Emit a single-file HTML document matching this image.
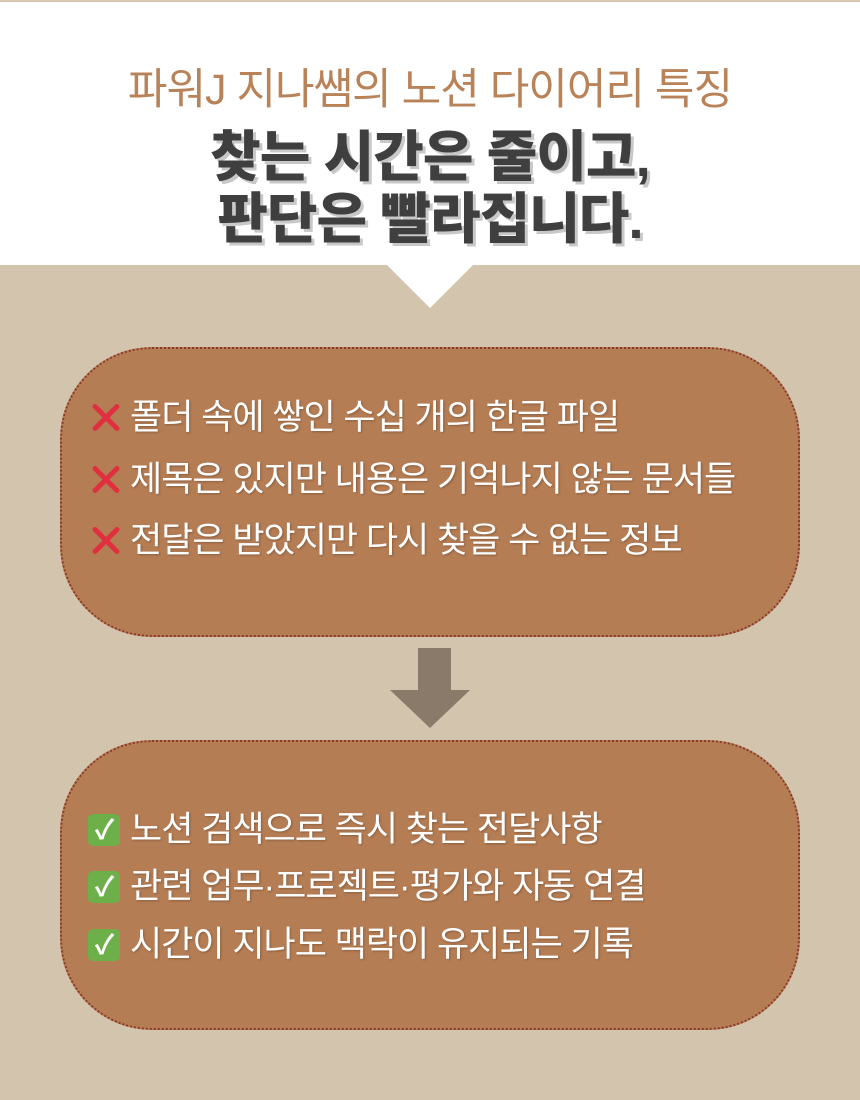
<!DOCTYPE html>
<html><head><meta charset="utf-8"><style>
body{margin:0;width:860px;height:1100px;background:#d3c4ae;position:relative;overflow:hidden;font-family:"Liberation Sans","Noto Sans CJK KR",sans-serif}
.top{position:absolute;left:0;top:0;width:860px;height:265px;background:#fff;border-top:2px solid #d8c8b0;box-sizing:border-box}
.tri{position:absolute;left:386px;top:264px;width:0;height:0;border-left:44px solid transparent;border-right:44px solid transparent;border-top:44px solid #fff}
.t1{position:absolute;top:62px;width:860px;text-align:center;font-size:43px;color:#b9835a;letter-spacing:-1px;line-height:56px}
.t2{position:absolute;width:860px;text-align:center;font-size:55px;font-weight:900;color:#3f3f3f;letter-spacing:-1px;text-shadow:3px 3px 0 #c8c8c8;line-height:66px}
.box{position:absolute;left:60px;width:740px;background:#b57d54;border:2px dotted #8b3a2a;border-radius:92px;box-sizing:border-box}
.it{position:absolute;left:86px;font-size:35px;color:#fff;letter-spacing:-1px;white-space:nowrap;text-shadow:1px 1px 2px rgba(0,0,0,.25);display:flex;align-items:center;height:44px;line-height:44px}
.x{width:44px;height:44px;position:relative}
.x:before,.x:after{content:"";position:absolute;left:2px;top:19px;width:36px;height:5px;background:#e03040;border-radius:3px;transform:rotate(45deg)}
.x:after{transform:rotate(-45deg)}
.c{width:32px;height:32px;background:#6db04a;border-radius:5px;color:#fff;font-size:27px;text-align:center;line-height:32px;margin-right:10px;margin-left:2px;text-shadow:none;font-weight:bold}
</style></head><body>
<div class="top"></div><div class="tri"></div>
<div class="t1">파워J 지나쌤의 노션 다이어리 특징</div>
<div class="t2" style="top:124px">찾는 시간은 줄이고,</div>
<div class="t2" style="top:186px">판단은 빨라집니다.</div>
<div class="box" style="top:347px;height:290px"></div>
<div class="it" style="top:396px"><span class="x"></span>폴더 속에 쌓인 수십 개의 한글 파일</div>
<div class="it" style="top:458px"><span class="x"></span>제목은 있지만 내용은 기억나지 않는 문서들</div>
<div class="it" style="top:519px"><span class="x"></span>전달은 받았지만 다시 찾을 수 없는 정보</div>
<div style="position:absolute;left:418px;top:648px;width:33px;height:43px;background:#8a7a6a"></div>
<div style="position:absolute;left:390px;top:690px;width:0;height:0;border-left:40px solid transparent;border-right:40px solid transparent;border-top:38px solid #8a7a6a"></div>
<div class="box" style="top:740px;height:290px"></div>
<div class="it" style="top:808px"><span class="c">✓</span>노션 검색으로 즉시 찾는 전달사항</div>
<div class="it" style="top:865px"><span class="c">✓</span>관련 업무·프로젝트·평가와 자동 연결</div>
<div class="it" style="top:923px"><span class="c">✓</span>시간이 지나도 맥락이 유지되는 기록</div>
</body></html>
